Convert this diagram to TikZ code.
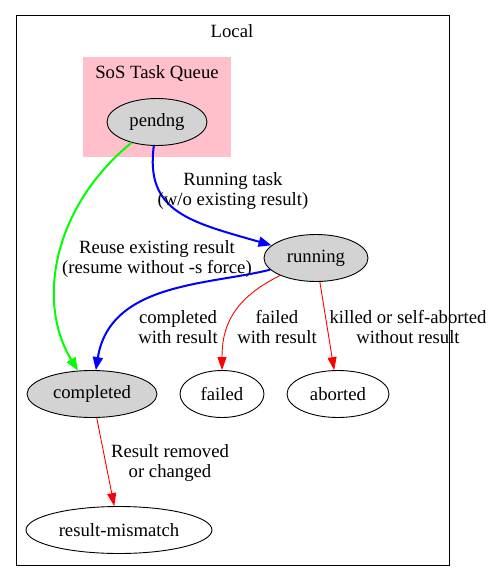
\documentclass[tikz,border=0pt]{standalone}
\usepackage{fontspec}
\setmainfont{Liberation Serif}
\usepackage{tikz}
\usetikzlibrary{positioning,arrows.meta,shapes.geometric}
\definecolor{queuecolor}{RGB}{255, 192, 203}
\definecolor{donecolor}{RGB}{211, 211, 211}
\definecolor{goodcolor}{RGB}{0, 0, 255}
\definecolor{reusecolor}{RGB}{0, 255, 0}
\definecolor{badcolor}{RGB}{255, 0, 0}
\tikzset{
    state/.style={ellipse, draw, line width=0.9pt, inner sep=0pt, fill=white, minimum height=47pt},
    gray state/.style={state, fill=donecolor},
    cluster/.style={draw, line width=0.9pt},
    queue box/.style={fill=queuecolor},
    edge label/.style={align=center},
    good edge/.style={-{Triangle[length=13pt,width=10pt]}, line width=2pt, goodcolor},
    reuse edge/.style={-{Triangle[length=13pt,width=10pt]}, line width=2pt, reusecolor},
    bad edge/.style={-{Triangle[length=13pt,width=9pt]}, line width=0.9pt, badcolor}
}

\begin{document}
\begin{tikzpicture}[x=1pt, y=-1pt, every node/.style={font=\fontsize{18.7}{20.5}\selectfont}]
    \useasboundingbox (0,0) rectangle (493,581);

    % Clusters
    \draw[cluster] (16,15) rectangle (449,565);
    \node (local) at (232,31) {Local};
    \fill[queue box] (83,57) rectangle (231,157);
    \node (queue) at (157,74) {SoS Task Queue};

    % States
    \node[gray state, minimum width=100pt] (pendng) at (157,122) {pendng};
    \node[gray state, minimum width=104pt] (running) at (316,258) {running};
    \node[gray state, minimum width=130pt] (completed) at (92,394) {completed};
    \node[state, minimum width=84pt] (failed) at (222,394) {failed};
    \node[state, minimum width=102pt] (aborted) at (338,394) {aborted};
    \node[state, minimum width=186pt] (mismatch) at (119,530) {result-mismatch};

    % Transitions
    \draw[reuse edge] (pendng) .. controls (55,205) and (35,300) .. (completed);
    \draw[good edge] (pendng) .. controls (145,212) and (190,222) .. (running);
    \draw[good edge] (running) .. controls (210,285) and (110,282) .. (completed);
    \draw[bad edge] (running) .. controls (230,300) and (222,330) .. (failed);
    \draw[bad edge] (running) -- (aborted);
    \draw[bad edge] (completed) -- (mismatch);

    % Transition labels
    \node[edge label] (l-run) at (233,191) {Running task\\(w/o existing result)};
    \node[edge label] (l-reuse) at (157,259) {Reuse existing result\\(resume without -s force)};
    \node[edge label] (l-done) at (178,327) {completed\\with result};
    \node[edge label] (l-fail) at (277,327) {failed\\with result};
    \node[edge label] (l-abort) at (408,327) {killed or self-aborted\\without result};
    \node[edge label] (l-change) at (170,463) {Result removed\\or changed};
\end{tikzpicture}
\end{document}
